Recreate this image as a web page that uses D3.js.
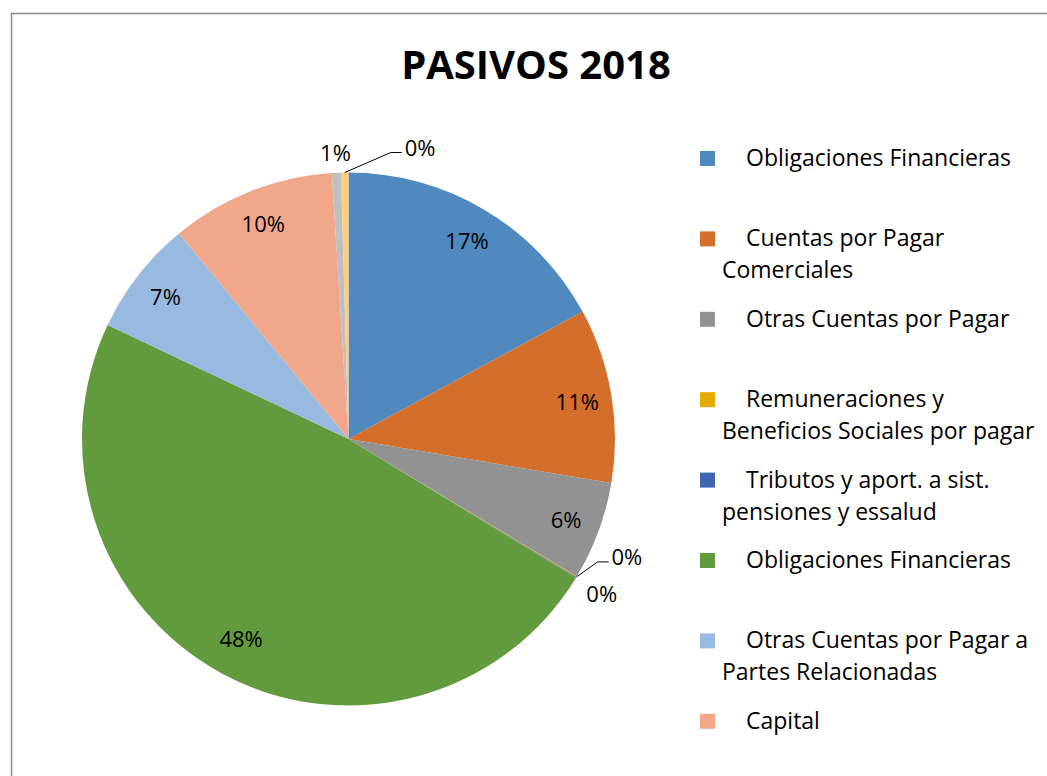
<!DOCTYPE html>
<html>
<head>
<meta charset="utf-8">
<script src="https://cdn.jsdelivr.net/npm/d3@7"></script>
<style>
  html, body { margin: 0; padding: 0; background: #fff; }
  svg { display: block; }
  text { font-family: "Open Sans", Lato, sans-serif; fill: #000; }
</style>
</head>
<body>
<svg id="chart" width="1047" height="776"></svg>
<script>
// ---- data ----
const title = "PASIVOS 2018";
const categories = [
  "Obligaciones Financieras",
  "Cuentas por Pagar Comerciales",
  "Otras Cuentas por Pagar",
  "Remuneraciones y Beneficios Sociales por pagar",
  "Tributos y aport. a sist. pensiones y essalud",
  "Obligaciones Financieras",
  "Otras Cuentas por Pagar a Partes Relacionadas",
  "Capital",
  "",
  ""
];
const legendLines = [
  ["Obligaciones Financieras"],
  ["Cuentas por Pagar", "Comerciales"],
  ["Otras Cuentas por Pagar"],
  ["Remuneraciones y", "Beneficios Sociales por pagar"],
  ["Tributos y aport. a sist.", "pensiones y essalud"],
  ["Obligaciones Financieras"],
  ["Otras Cuentas por Pagar a", "Partes Relacionadas"],
  ["Capital"]
];
const values = [17.1, 10.6, 6.0, 0.05, 0.05, 48.4, 7.0, 10.0, 0.55, 0.45];
const colors = ["#4F89BE", "#D36E2B", "#929292", "#E3AB00", "#3E65AD",
                "#629B3E", "#98B9E0", "#F1A88A", "#BFBFBF", "#FECF7F"];

// ---- layout ----
const svg = d3.select("#chart");
const cx = 348.5, cy = 439, R = 266.5;

svg.append("rect")
  .attr("x", 11.5).attr("y", 13.5)
  .attr("width", 1100).attr("height", 900)
  .attr("fill", "none").attr("stroke", "#8a8a8a").attr("stroke-width", 1.5);

svg.append("text")
  .attr("x", 536).attr("y", 79)
  .attr("text-anchor", "middle")
  .style("font-weight", "bold").style("font-size", "40px")
  .text(title);

const total = d3.sum(values);
const pie = d3.pie().sort(null).value(d => d)(values);
const arc = d3.arc().innerRadius(0).outerRadius(R);

const g = svg.append("g").attr("transform", `translate(${cx},${cy})`);
g.selectAll("path.slice").data(pie).join("path")
  .attr("class", "slice")
  .attr("d", arc)
  .attr("fill", (d, i) => colors[i]);

// labels
const pct = v => Math.round(v / total * 100) + "%";
const polar = (a, r) => [Math.sin(a) * r, -Math.cos(a) * r];
const labelSize = "22px";

pie.forEach((d, i) => {
  const mid = (d.startAngle + d.endAngle) / 2;
  const share = d.value / total;
  const txt = pct(d.value);
  if (share >= 0.02) {
    const [x, y] = polar(mid, share > 0.3 ? 226 : 232);
    g.append("text").attr("x", x).attr("y", y)
      .attr("text-anchor", "middle").attr("dominant-baseline", "central")
      .style("font-size", labelSize).text(txt);
  } else {
    const leader = (i === 3 || i === 9);
    if (leader) {
      const [ex, ey] = polar(mid, R);
      const kx = ex + (i === 3 ? 21 : 46), ky = ey - (i === 3 ? 15 : 20);
      const hx = kx + 11;
      g.append("polyline")
        .attr("points", `${ex},${ey} ${kx},${ky} ${hx},${ky}`)
        .attr("fill", "none").attr("stroke", "#000").attr("stroke-width", 1);
      g.append("text").attr("x", hx + 3).attr("y", ky - 6)
        .attr("text-anchor", "start").attr("dominant-baseline", "central")
        .style("font-size", labelSize).text(txt);
    } else {
      const [x, y] = polar(mid, R + (i === 4 ? 30 : 21));
      g.append("text").attr("x", x).attr("y", y)
        .attr("text-anchor", "middle").attr("dominant-baseline", "central")
        .style("font-size", labelSize).text(txt);
    }
  }
});

// legend
const legY0 = 151, legStep = 80.4;
const leg = svg.append("g");
legendLines.forEach((lines, i) => {
  const y = legY0 + i * legStep;
  leg.append("rect").attr("x", 700).attr("y", y).attr("width", 15).attr("height", 15)
    .attr("fill", colors[i]);
  lines.forEach((ln, j) => {
    leg.append("text")
      .attr("x", j === 0 ? 746 : 722)
      .attr("y", y + 15 + j * 32)
      .style("font-size", "23px")
      .text(ln);
  });
});
</script>
</body>
</html>
